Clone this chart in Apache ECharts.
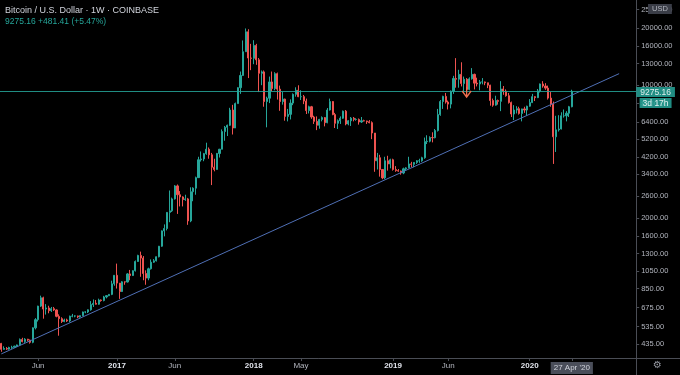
<!DOCTYPE html>
<html><head><meta charset="utf-8">
<script src="https://cdn.jsdelivr.net/npm/echarts@6/dist/echarts.min.js"></script>
<style>html,body{margin:0;padding:0;background:#000}#c{width:680px;height:375px}</style>
</head><body><div id="c"></div>
<script>
// ---- data ----
const firstWeek = '2016-02-29';
const weekCount = 242; // weekly slots on the time axis (incl. empty future space)
const opens = [
437,407,411,408,416,417,423,429,459,447,
460,455,443,528,583,687,760,663,672,650,
666,656,607,590,570,581,574,608,609,610,
603,612,640,640,657,700,711,703,740,735,
768,780,792,900,998,908,820,922,920,1015,
995,1055,1180,1270,1230,1020,965,1080,1170,1190,
1250,1420,1710,1760,2140,2180,2520,2950,2650,2580,
2500,2520,1930,2750,2870,3260,4050,4090,4360,4600,
4300,3700,3600,4370,4600,5700,6000,6150,7400,5950,
8000,9700,11250,15000,19100,13900,13850,16200,13600,11550,
11750,8200,8540,10400,9600,11500,9530,8200,8450,6850,
7020,8050,8950,9400,8700,8700,8250,7350,7700,6800,
6450,6150,6600,6750,6350,7400,8200,7000,6300,6500,
6700,7300,6250,6500,6700,6600,6600,6400,6500,6480,
6420,6350,5600,4000,4150,3600,3250,4000,3850,4050,
3600,3550,3530,3450,3630,3670,3850,3830,3920,4000,
4000,4150,5050,5070,5300,5290,5770,7000,8200,8730,
8150,7950,9300,10850,10750,11400,10200,10750,9500,10800,
11400,10250,10150,10400,10400,10300,10000,8300,7850,8300,
8220,9550,9300,8800,8100,7050,7400,7520,7100,7500,
7400,7750,8100,8700,8600,9330,10150,9900,9650,8550,
7950,5350,5820,5880,6900,6900,7120,7700];
const closes = [
407,411,408,416,417,423,429,459,447,460,
455,443,528,583,687,760,663,672,650,666,
656,607,590,570,581,574,608,609,610,603,
612,640,640,657,700,711,703,740,735,768,
780,792,900,998,908,820,922,920,1015,995,
1055,1180,1270,1230,1020,965,1080,1170,1190,1250,
1420,1710,1760,2140,2180,2520,2950,2650,2580,2500,
2520,1930,2750,2870,3260,4050,4090,4360,4600,4300,
3700,3600,4370,4600,5700,6000,6150,7400,5950,8000,
9700,11250,15000,19100,13900,13850,16200,13600,11550,11750,
8200,8540,10400,9600,11500,9530,8200,8450,6850,7020,
8050,8950,9400,8700,8700,8250,7350,7700,6800,6450,
6150,6600,6750,6350,7400,8200,7000,6300,6500,6700,
7300,6250,6500,6700,6600,6600,6400,6500,6480,6420,
6350,5600,4000,4150,3600,3250,4000,3850,4050,3600,
3550,3530,3450,3630,3670,3850,3830,3920,4000,4000,
4150,5050,5070,5300,5290,5770,7000,8200,8730,8150,
7950,9300,10850,10750,11400,10200,10750,9500,10800,11400,
10250,10150,10400,10400,10300,10000,8300,7850,8300,8220,
9550,9300,8800,8100,7050,7400,7520,7100,7500,7400,
7750,8100,8700,8600,9330,10150,9900,9650,8550,7950,
5350,5820,5880,6900,6900,7120,7700,9275.16];
const lows = [
395,405,404,405,409,415,419,426,443,440,
448,436,438,518,570,680,590,620,630,640,
648,600,480,560,565,567,565,600,600,594,
598,608,630,632,650,680,700,698,725,728,
755,775,785,880,850,750,815,890,915,940,
990,1045,1175,980,940,890,940,1070,1160,1180,
1240,1410,1600,1720,1900,2150,2500,2100,2300,2300,
2460,1840,1900,2450,2650,3260,3960,3980,4300,4100,
2980,3520,3600,4160,4600,5100,5400,6100,5500,5950,
8000,9000,11200,15000,10900,12000,12900,12800,9200,10000,
7700,6000,8050,9300,9400,8400,7330,7900,6500,6450,
6600,7850,8700,8650,8350,7950,7050,7100,6650,6250,
5800,5900,6450,6070,6300,7350,6950,5950,5880,6250,
6650,6150,6150,6100,6450,6500,6200,6330,6450,6250,
6300,5200,3500,3600,3300,3200,3200,3550,3650,3550,
3500,3500,3380,3400,3560,3650,3700,3700,3850,3900,
3950,4100,4900,5000,5000,5250,5700,6900,7500,8000,
7450,7550,9000,9700,9700,9850,9100,9300,9400,10700,
9500,9850,9400,10100,10000,9650,7800,7700,7800,7900,
7300,8900,8700,8000,6800,6550,7100,7000,6450,7150,
6900,7700,8050,8250,8550,9150,9700,9450,8400,7700,
3850,4450,5700,5850,6750,6450,6800,7650];
const highs = [
440,422,418,420,425,425,431,464,468,466,
462,458,531,594,690,780,770,704,690,680,
680,660,622,600,590,590,612,625,615,612,
615,643,645,660,730,745,740,752,745,778,
785,795,935,1000,1150,910,930,925,1025,1065,
1060,1195,1280,1330,1260,1060,1095,1210,1215,1255,
1425,1720,1850,2150,2790,2560,2980,3000,2770,2600,
2650,2550,2900,2900,3300,4200,4480,4400,4980,4700,
4400,4100,4400,4620,5850,6100,6200,7600,7880,8100,
9750,11800,17200,19890,19700,16500,17250,16500,13900,11950,
11950,8700,11100,11800,11700,11650,9950,9200,8500,7500,
8420,9050,9750,9990,9400,8880,8500,7800,7780,6900,
6850,6650,6850,6800,7580,8500,8250,7150,6600,6850,
7350,7400,6550,6800,6800,6700,6680,6800,6580,6500,
6550,6450,5600,4400,4300,3600,4200,4250,4100,4100,
3750,3620,3550,3680,3700,4200,3950,3930,4030,4100,
4200,5300,5450,5380,5650,5880,7500,8350,8800,9100,
8300,9380,11200,13880,12050,13200,11100,10900,11000,12300,
11500,10950,10650,10900,10450,10300,10050,8500,8800,8400,
10500,9900,9500,9100,8200,7850,7750,7700,7520,7700,
7800,8450,9000,8750,9550,10200,10500,10250,9950,9200,
8200,6900,6950,7200,7450,7300,7780,9460];
const yTickValues = [435,535,675,850,1050,1300,1600,2000,2600,3400,4200,5200,6400,8000,10000,13000,16000,20000,25000];
const xTickDates  = ['2016-06-06','2017-01-02','2017-06-05','2018-01-01','2018-05-07','2019-01-07','2019-06-03','2020-01-06','2020-04-27'];
const xTickLabels = ['Jun','2017','Jun','2018','May','2019','Jun','2020',"27 Apr '20"];
const trendDates  = ['2016-02-29','2020-08-31'];
const trendValues = [385, 11500];
const lastPrice = 9275.16;
const changeText = '+481.41 (+5.47%)';
const countdown = '3d 17h';
const arrowDate = '2019-07-22';
const arrowValue = 9200;

// ---- build ----
const FONT = "'Liberation Sans', Arial, sans-serif";
const UP = '#26a69a', DOWN = '#ef5350';
const base = Date.UTC(2016, 1, 29);
const categories = [];
for (let i = 0; i < weekCount; i++) categories.push(new Date(base + i * 7 * 86400000).toISOString().slice(0, 10));
const candles = opens.map((o, i) => [o, closes[i], lows[i], highs[i]]);
const tickMap = {};
xTickDates.forEach((d, i) => tickMap[d] = xTickLabels[i]);
const isTick = (idx, val) => tickMap[categories[idx]] !== undefined;

const chart = echarts.init(document.getElementById('c'), null, {renderer: 'canvas'});
chart.setOption({
  backgroundColor: '#000',
  animation: false,
  textStyle: {fontFamily: FONT},
  title: {
    text: 'Bitcoin / U.S. Dollar · 1W · COINBASE',
    subtext: lastPrice.toFixed(2) + ' ' + changeText,
    left: 0, top: 0, padding: [6, 5], itemGap: 2,
    textStyle: {fontSize: 9, color: '#d1d4dc', fontWeight: 'normal', fontFamily: FONT},
    subtextStyle: {fontSize: 8.5, color: '#26a69a', fontFamily: FONT}
  },
  grid: {left: -0.9, right: 43.8, top: 0, bottom: 17},
  xAxis: {
    type: 'category', data: categories, boundaryGap: true,
    axisLine: {lineStyle: {color: '#4a4d55'}},
    axisTick: {show: true, interval: isTick, alignWithLabel: true, length: 3, lineStyle: {color: '#4a4d55'}},
    axisLabel: {
      interval: isTick, margin: 4, hideOverlap: false,
      formatter: v => {
        const t = tickMap[v];
        if (t === undefined) return '';
        if (/^\d{4}$/.test(t)) return '{y|' + t + '}';
        if (t.indexOf("'") >= 0) return '{d|' + t + '}';
        return '{m|' + t + '}';
      },
      rich: {
        y: {fontSize: 8, fontWeight: 'bold', color: '#e0e3eb', fontFamily: FONT},
        m: {fontSize: 8, color: '#b2b5be', fontFamily: FONT},
        d: {fontSize: 8, color: '#d1d4dc', backgroundColor: '#4a4e5a', padding: [2, 3, 2, 3], fontFamily: FONT}
      }
    },
    splitLine: {show: false}
  },
  yAxis: {
    type: 'log', logBase: 10, position: 'right', min: 366.3, max: 28082,
    axisLine: {show: true, lineStyle: {color: '#4a4d55'}},
    axisTick: {show: true, length: 3, customValues: yTickValues, lineStyle: {color: '#4a4d55'}},
    axisLabel: {customValues: yTickValues, formatter: v => Number(v).toFixed(2), fontSize: 7.5, color: '#b2b5be', margin: 5, fontFamily: FONT},
    splitLine: {show: false}
  },
  series: [
    {
      type: 'candlestick',
      data: candles,
      barWidth: 1.6,
      itemStyle: {color: UP, color0: DOWN, borderColor: UP, borderColor0: DOWN, borderWidth: 1},
      markLine: {
        silent: true, symbol: 'none', animation: false,
        lineStyle: {color: '#26a69a', width: 1, type: 'solid', opacity: 0.85},
        label: {
          position: 'end', distance: 0,
          formatter: () => '{s|}\n{a|' + lastPrice.toFixed(2) + '}\n{g|}\n{b|' + countdown + '}',
          rich: {
            s: {height: 12, fontSize: 1},
            a: {fontSize: 8.5, color: '#fff', backgroundColor: '#26a69a', padding: [1, 4, 0, 4], lineHeight: 9, fontFamily: FONT},
            g: {height: 2, fontSize: 1},
            b: {fontSize: 8.5, color: '#fff', backgroundColor: '#26a69a', padding: [1, 3, 0, 3], lineHeight: 9, align: 'center', fontFamily: FONT}
          }
        },
        data: [{yAxis: lastPrice}]
      },
      markPoint: {
        silent: true, animation: false,
        symbol: 'path://M0,4L5,10L10,4M5,10L5,0',
        symbolSize: [9, 10],
        itemStyle: {color: 'none', borderColor: '#f0704f', borderWidth: 1.3},
        label: {show: false},
        data: [{coord: [arrowDate, arrowValue]}]
      }
    },
    {
      type: 'line',
      data: trendDates.map((d, i) => [d, trendValues[i]]),
      symbol: 'none', silent: true,
      lineStyle: {color: '#4f6fb5', width: 1},
      z: 3
    }
  ],
  graphic: [
    {type: 'line', shape: {x1: 637, y1: 358.5, x2: 680, y2: 358.5}, style: {stroke: '#4a4d55', lineWidth: 1}, silent: true},
    {type: 'line', shape: {x1: 636.5, y1: 358, x2: 636.5, y2: 375}, style: {stroke: '#4a4d55', lineWidth: 1}, silent: true},
    {type: 'text', left: 648, top: 4, z: 100, style: {text: 'USD', fill: '#b2b5be', fontSize: 7.5, fontFamily: FONT, backgroundColor: '#3a3d47', padding: [1, 4]}, silent: true},
    {type: 'text', left: 653, top: 360, style: {text: '⚙', fill: '#9598a1', fontSize: 10, fontFamily: 'DejaVu Sans'}, silent: true}
  ]
});
</script></body></html>
